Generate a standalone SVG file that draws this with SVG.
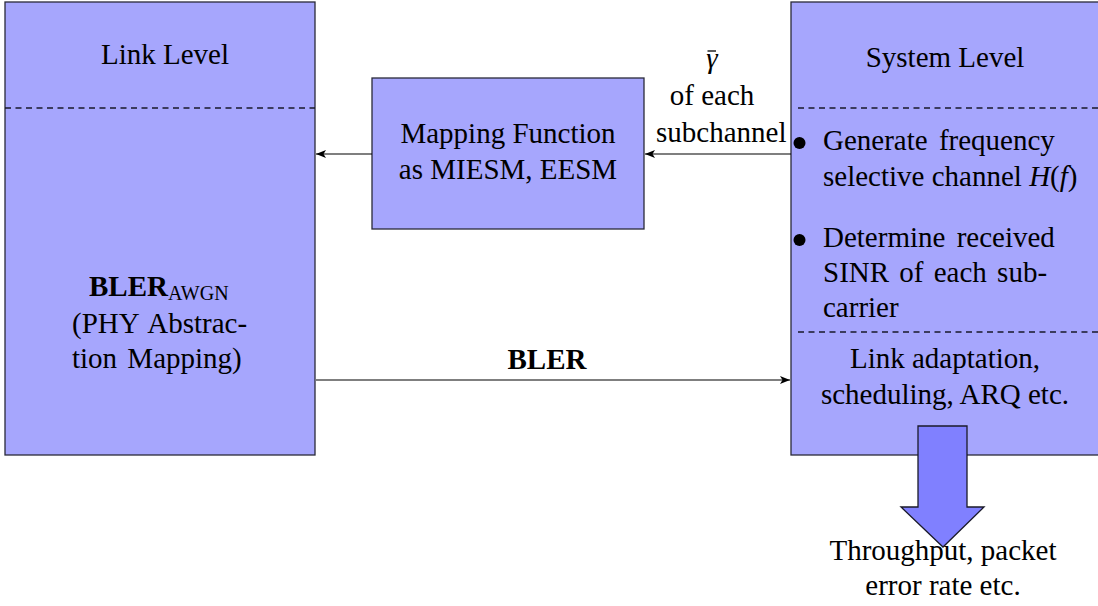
<svg xmlns="http://www.w3.org/2000/svg" width="1098" height="606" viewBox="0 0 1098 606">
  <defs>
    <style>
      .box { fill: #a6a6fd; stroke: #2a2a3a; stroke-width: 1.3; }
      .sep { stroke: #1a1a2a; stroke-width: 1.3; stroke-dasharray: 6 4.5; fill: none; }
      .conn { stroke: #000; stroke-width: 1.2; fill: none; }
      .t { font-family: "Liberation Serif", "Times New Roman", serif; font-size: 29px; fill: #000; }
      .c { text-anchor: middle; }
      .b { font-weight: bold; }
      .i { font-style: italic; }
      .fat { fill: #8080ff; stroke: #1a1a2a; stroke-width: 1.3; stroke-linejoin: miter; }
    </style>
    <marker id="tip" viewBox="0 0 10 8" refX="10" refY="4" markerWidth="10" markerHeight="8" markerUnits="userSpaceOnUse" orient="auto">
      <path d="M0,0 L10,4 L0,8 L2.5,4 Z" fill="#000"/>
    </marker>
  </defs>

  <!-- Link level block -->
  <g id="link-level">
    <rect class="box" x="5" y="2" width="310" height="453"/>
    <line class="sep" x1="5" y1="108" x2="315" y2="108"/>
    <text class="t c" x="165" y="64">Link Level</text>
    <text class="t" x="89" y="296"><tspan class="b">BLER</tspan><tspan font-size="20" dy="4">AWGN</tspan></text>
    <text class="t" x="72" y="333" word-spacing="3">(PHY Abstrac-</text>
    <text class="t" x="72" y="368" word-spacing="3">tion Mapping)</text>
  </g>

  <!-- Mapping function block -->
  <g id="mapping-function">
    <rect class="box" x="372" y="78" width="272" height="151"/>
    <text class="t c" x="508" y="143">Mapping Function</text>
    <text class="t c" x="508" y="179">as MIESM, EESM</text>
  </g>

  <!-- System level block -->
  <g id="system-level">
    <rect class="box" x="791" y="2" width="320" height="453"/>
    <line class="sep" x1="798" y1="108" x2="1098" y2="108"/>
    <line class="sep" x1="798" y1="332" x2="1098" y2="332"/>
    <text class="t c" x="945" y="67">System Level</text>
    <circle cx="799.5" cy="143" r="6" fill="#000"/>
    <text class="t" x="823" y="150" word-spacing="4">Generate frequency</text>
    <text class="t" x="823" y="186">selective channel <tspan class="i">H</tspan>(<tspan class="i">f</tspan>)</text>
    <circle cx="799.5" cy="240" r="6" fill="#000"/>
    <text class="t" x="823" y="247" word-spacing="4">Determine received</text>
    <text class="t" x="823" y="282" word-spacing="3">SINR of each sub-</text>
    <text class="t" x="823" y="317">carrier</text>
    <text class="t c" x="945" y="368">Link adaptation,</text>
    <text class="t c" x="945" y="404">scheduling, ARQ etc.</text>
  </g>

  <!-- Output arrow and results -->
  <g id="output">
    <polygon class="fat" points="918,426 967,426 967,507 984,507 943,547 901,507 918,507"/>
    <text class="t c" x="943" y="560">Throughput, packet</text>
    <text class="t c" x="943" y="595">error rate etc.</text>
  </g>

  <!-- Connectors -->
  <g id="connectors">
    <line class="conn" x1="791" y1="154" x2="645" y2="154" marker-end="url(#tip)"/>
    <line class="conn" x1="372" y1="154" x2="316" y2="154" marker-end="url(#tip)"/>
    <line class="conn" x1="316" y1="380" x2="790" y2="380" marker-end="url(#tip)"/>
    <text class="t c i" x="712" y="68">γ</text>
    <line x1="707.5" y1="51" x2="716" y2="51" stroke="#000" stroke-width="1.3"/>
    <text class="t c" x="712" y="105">of each</text>
    <text class="t" x="656" y="142">subchannel</text>
    <text class="t c b" x="547" y="369">BLER</text>
  </g>
</svg>
